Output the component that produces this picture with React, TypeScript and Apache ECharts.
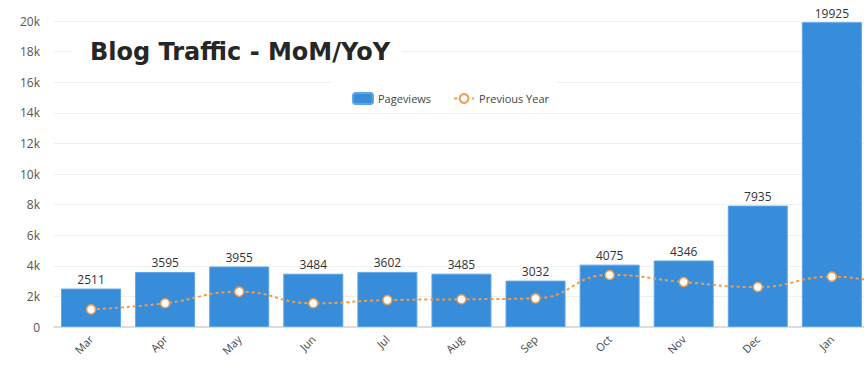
import React, { useEffect, useRef } from "react";
import * as echarts from "echarts";

const months = ["Mar", "Apr", "May", "Jun", "Jul", "Aug", "Sep", "Oct", "Nov", "Dec", "Jan", "Feb"];
const pageviews: (number | null)[] = [2511, 3595, 3955, 3484, 3602, 3485, 3032, 4075, 4346, 7935, 19925, null];
const previousYear = [1150, 1550, 2310, 1550, 1760, 1810, 1870, 3400, 2940, 2610, 3290, 2430];
const yTicks = [0, 2000, 4000, 6000, 8000, 10000, 12000, 14000, 16000, 18000, 20000];

export default function App() {
  const ref = useRef<HTMLDivElement>(null);
  useEffect(() => {
    document.body.style.margin = "0";
    if (!ref.current) return;
    const chart = echarts.init(ref.current, undefined, { renderer: "svg" });
    chart.setOption({
      animation: false,
      backgroundColor: "#ffffff",
      textStyle: { fontFamily: "Open Sans" },
      title: {
        text: "Blog Traffic - MoM/YoY",
        left: 73,
        top: 37,
        padding: [3, 12, 3, 17],
        backgroundColor: "#ffffff",
        textStyle: { fontSize: 24, fontWeight: "bold", color: "#262626", fontFamily: "DejaVu Sans" },
      },
      legend: {
        left: 332,
        top: 82,
        padding: [10, 7, 8, 20],
        backgroundColor: "#ffffff",
        itemWidth: 20,
        itemHeight: 11,
        itemGap: 22,
        textStyle: { fontSize: 11, color: "#444444" },
        data: ["Pageviews", "Previous Year"],
      },
      grid: { left: 54, right: 2, top: 21, bottom: 42 },
      xAxis: {
        type: "category",
        data: months,
        axisTick: { show: false },
        axisLine: { lineStyle: { color: "#dddddd", width: 2 } },
        axisLabel: {
          rotate: 45,
          fontSize: 11,
          color: "#444444",
          margin: 10,
          interval: (index: number) => pageviews[index] !== null,
        },
      },
      yAxis: {
        type: "value",
        min: yTicks[0],
        max: yTicks[yTicks.length - 1],
        interval: 2000,
        axisLine: { show: false },
        axisTick: { show: false },
        splitLine: { lineStyle: { color: "#efefef" } },
        axisLabel: {
          fontSize: 12,
          color: "#555555",
          margin: 14,
          formatter: (v: number) => (v === 0 ? "0" : v / 1000 + "k"),
        },
      },
      series: [
        {
          name: "Pageviews",
          type: "bar",
          data: pageviews,
          barCategoryGap: "19%",
          itemStyle: { color: "#378dd9", borderColor: "#5ea5e6", borderWidth: 1 },
          label: { show: true, position: "top", color: "#333333", fontSize: 12, distance: 3 },
          z: 2,
        },
        {
          name: "Previous Year",
          type: "line",
          data: previousYear,
          smooth: true,
          symbol: "circle",
          symbolSize: 9,
          lineStyle: { color: "#f39c4a", width: 2, type: [3, 3] },
          itemStyle: { color: "#ffffff", borderColor: "#f39c4a", borderWidth: 1.5 },
          z: 3,
        },
      ],
    });
    return () => chart.dispose();
  }, []);
  return (
    <div style={{ position: "fixed", left: 0, top: 0, width: 864, height: 369, overflow: "hidden" }}>
      <div ref={ref} style={{ width: 945, height: 369 }} />
    </div>
  );
}
